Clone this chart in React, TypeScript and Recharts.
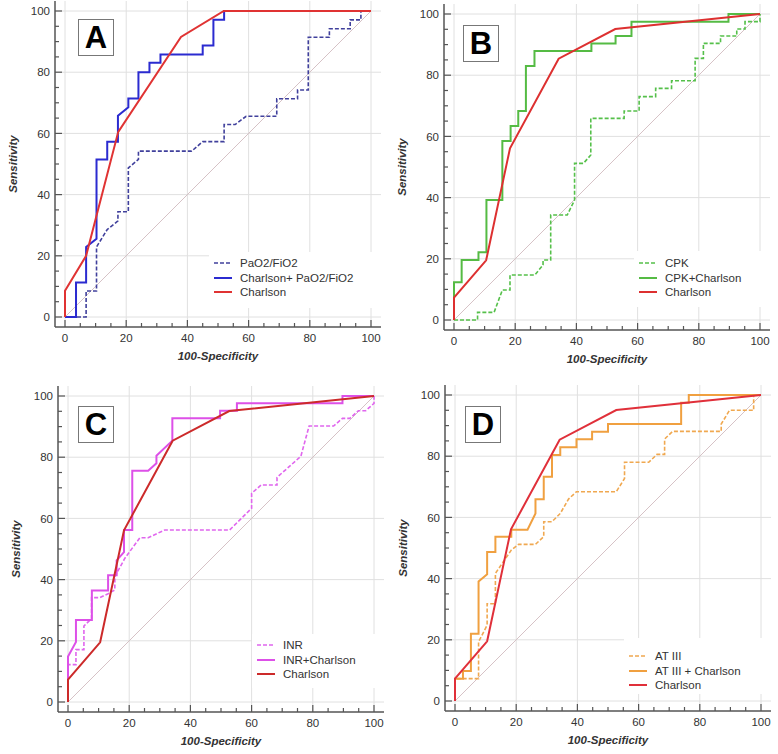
import React from 'react';
import { LineChart, Line, XAxis, YAxis, CartesianGrid, Legend } from 'recharts';

const FONT = '"Liberation Sans", Arial, Helvetica, sans-serif';

// ---------- tick values ----------
const MAJOR_TICKS = [0, 20, 40, 60, 80, 100];
const ALL_TICKS = [0, 5, 10, 15, 20, 25, 30, 35, 40, 45, 50, 55, 60, 65, 70, 75, 80, 85, 90, 95, 100];
const DIAGONAL = [[0, 0], [100, 100]];

// ---------- Panel A ----------
const A_PAO = [[0,0],[6.9,0],[6.9,8.5],[10.3,8.5],[10.3,22.9],[13.8,28.6],[17.3,31.4],[17.3,34.4],[20.7,34.4],[20.7,48.7],[24,51.5],[24,54.2],[41.4,54.2],[45,57.3],[52,57.3],[52,62.9],[55.6,62.9],[59.2,65.6],[69.2,65.6],[69.2,71.3],[76,71.3],[76,74.2],[79.5,74.2],[79.5,91.4],[86.4,91.4],[86.4,94.2],[93.2,94.2],[93.2,97.1],[96.7,97.1],[96.7,100],[100,100]];
const A_COMBO = [[0,0],[3.6,0],[3.6,11.3],[6.9,11.3],[6.9,22.9],[10.3,25.6],[10.3,51.5],[13.8,51.5],[13.8,57.3],[17.3,57.3],[17.3,65.8],[20.7,68.5],[20.7,71.4],[24,71.4],[24,80],[27.6,80],[27.6,83.1],[31.2,83.1],[31.2,85.8],[45,85.8],[45,88.7],[48.5,88.7],[48.5,97.1],[52,97.1],[52,100],[100,100]];
const A_CHARLSON = [[0,0],[0,8.6],[6.9,20],[17.4,60.5],[37.9,91.5],[51.9,100],[100,100]];

// ---------- Charlson (B, C, D) ----------
const CHARLSON = [[0,0],[0,7.3],[10.5,19.5],[18.3,56.1],[34.2,85.4],[52.7,95.1],[100,100]];

// ---------- Panel B ----------
const B_CPK = [[0,0],[7.7,0],[7.7,2.5],[13.1,2.5],[15.8,9.8],[18.3,9.8],[18.3,14.7],[26.4,14.7],[29.1,18],[29.1,19.6],[31.6,19.6],[31.6,34.3],[37,34.3],[39.4,39.2],[39.4,51.2],[42.3,51.2],[44.7,53.9],[44.7,65.9],[55.6,65.9],[55.6,68.3],[60.5,68.3],[60.5,73],[65.9,73],[65.9,75.7],[71.1,75.7],[71.1,78.2],[78.8,78.2],[78.8,85.5],[81.5,85.5],[81.5,90.4],[87.1,90.4],[87.1,92.8],[92.4,92.8],[92.4,95.1],[95.1,95.1],[95.1,97.5],[100,97.5],[100,100]];
const B_COMBO = [[0,0],[0,12.3],[2.5,12.3],[2.5,19.6],[8,19.6],[8,22.1],[10.6,22.1],[10.6,39.2],[15.8,39.2],[15.8,58.5],[18.5,58.5],[18.5,63.4],[21,63.4],[21,68.3],[23.5,68.3],[23.5,83],[26.3,83],[26.3,87.9],[44.9,87.9],[44.9,90.4],[52.8,90.4],[52.8,92.8],[58,92.8],[58,97.5],[89.7,97.5],[89.7,100],[100,100]];

// ---------- Panel C ----------
const C_INR = [[0,0],[0,12.2],[2.6,12.2],[2.6,17.1],[5.2,17.1],[5.2,24.8],[7.7,27.3],[7.7,34.1],[10.4,34.1],[13.1,35.4],[15.3,36.6],[15.3,41],[18.6,47],[23.5,53.7],[26.2,53.7],[31.6,56.2],[52.8,56.2],[60,63.3],[60,68.2],[63.1,70.9],[68.3,70.9],[68.3,73.4],[76.1,80.3],[78.8,90.2],[86.8,90.2],[89.7,92.7],[92.1,92.7],[94.9,95.2],[97.3,95.2],[100,97.6],[100,100]];
const C_COMBO = [[0,0],[0,14.9],[2.6,19.6],[2.6,26.8],[7.8,26.8],[7.8,36.4],[13.1,36.4],[13.1,41.4],[15.9,41.4],[15.9,46.3],[18.3,49],[18.3,56.2],[21,56.2],[21,75.6],[26.2,75.6],[28.9,78],[28.9,80.5],[34.1,85.4],[34.1,92.7],[49.7,92.7],[49.7,95.2],[55.2,95.2],[55.2,97.6],[89.7,97.6],[89.7,100],[100,100]];

// ---------- Panel D ----------
const D_AT3 = [[0,0],[0,7.3],[7.7,7.3],[7.7,19.3],[10.5,24.8],[10.5,31.8],[13.2,31.8],[13.2,41.7],[18.4,49.3],[20.8,51.2],[26.3,51.2],[29,53.7],[29,58.6],[31.7,58.6],[34.4,61.3],[37.1,66],[39.7,68.4],[52.7,68.4],[55.4,72.7],[55.4,78],[63.3,78],[66,80.6],[68.5,80.6],[68.5,85.6],[71.1,88.1],[87,88.1],[87,90.5],[89.7,95],[97.6,95],[97.6,100],[100,100]];
const D_COMBO = [[0,0],[0,7.3],[2.6,7.3],[2.6,9.8],[5.2,9.8],[5.2,22],[7.7,22],[7.7,39.1],[10.5,41.4],[10.5,48.7],[13.2,48.7],[13.2,53.7],[18.4,53.7],[18.4,56],[23.7,56],[26.3,61.3],[26.3,65.9],[29,65.9],[29,73.3],[31.7,73.3],[31.7,80.4],[34.4,80.4],[34.4,82.9],[39.7,82.9],[39.7,85.5],[44.8,85.5],[44.8,88],[50,88],[50,90.5],[73.9,90.5],[73.9,97.5],[76.4,97.5],[76.4,100],[100,100]];

// ---------- names ----------
const A_NAMES = ['PaO2/FiO2', 'Charlson+ PaO2/FiO2', 'Charlson'];
const B_NAMES = ['CPK', 'CPK+Charlson', 'Charlson'];
const C_NAMES = ['INR', 'INR+Charlson', 'Charlson'];
const D_NAMES = ['AT III', 'AT III + Charlson', 'Charlson'];

const toRows = (pts: number[][]) => pts.map(([x, y]) => ({ x, y }));

type Series = { id: string; name: string; points: number[][]; color: string; dashed: boolean };
type PanelCfg = {
  letter: string;
  left: number;
  top: number;
  letterBox: { left: number; top: number };
  legendBox: { left: number; top: number; width: number; height: number; rowStart: number };
  series: Series[];
};

const PANELS: PanelCfg[] = [
  {
    letter: 'A', left: 0, top: 0,
    letterBox: { left: 78, top: 19 },
    legendBox: { left: 209, top: 252, width: 176, height: 56, rowStart: 11 },
    series: [
      { id: 'a1', name: A_NAMES[0], points: A_PAO, color: '#40409c', dashed: true },
      { id: 'a2', name: A_NAMES[1], points: A_COMBO, color: '#2b2bd0', dashed: false },
      { id: 'a3', name: A_NAMES[2], points: A_CHARLSON, color: '#e03333', dashed: false },
    ],
  },
  {
    letter: 'B', left: 389, top: 3,
    letterBox: { left: 463, top: 25 },
    legendBox: { left: 245, top: 248, width: 140, height: 56, rowStart: 12 },
    series: [
      { id: 'b1', name: B_NAMES[0], points: B_CPK, color: '#55c04a', dashed: true },
      { id: 'b2', name: B_NAMES[1], points: B_COMBO, color: '#55bb44', dashed: false },
      { id: 'b3', name: B_NAMES[2], points: CHARLSON, color: '#dd3030', dashed: false },
    ],
  },
  {
    letter: 'C', left: 3, top: 385,
    letterBox: { left: 78, top: 406 },
    legendBox: { left: 249, top: 249, width: 136, height: 54, rowStart: 11 },
    series: [
      { id: 'c1', name: C_NAMES[0], points: C_INR, color: '#e066ee', dashed: true },
      { id: 'c2', name: C_NAMES[1], points: C_COMBO, color: '#dd50e8', dashed: false },
      { id: 'c3', name: C_NAMES[2], points: CHARLSON, color: '#cc2a2a', dashed: false },
    ],
  },
  {
    letter: 'D', left: 390, top: 384,
    letterBox: { left: 465, top: 406 },
    legendBox: { left: 234, top: 254, width: 150, height: 56, rowStart: 18 },
    series: [
      { id: 'd1', name: D_NAMES[0], points: D_AT3, color: '#f0a850', dashed: true },
      { id: 'd2', name: D_NAMES[1], points: D_COMBO, color: '#f0a040', dashed: false },
      { id: 'd3', name: D_NAMES[2], points: CHARLSON, color: '#e0303a', dashed: false },
    ],
  },
];

const TM_X = 7;
const TM_Y = 5;
const AXIS_COLOR = '#555';
const TEXT_COLOR = '#333';
const FS = 11.5;

function XTick(props: any) {
  const { x, y, payload } = props;
  const v = payload.value;
  const major = v % 20 === 0;
  const ay = y - TM_X;
  return (
    <g>
      <line x1={x} x2={x} y1={ay} y2={ay - (major ? 7 : 4)} stroke={AXIS_COLOR} strokeWidth={1.2} />
      {major ? (
        <text x={x} y={y} dy="0.71em" textAnchor="middle" fontSize={FS} fill={TEXT_COLOR} fontFamily={FONT}>
          {v}
        </text>
      ) : null}
    </g>
  );
}

function YTick(props: any) {
  const { x, y, payload } = props;
  const v = payload.value;
  const major = v % 20 === 0;
  const ax = x + TM_Y;
  return (
    <g>
      <line x1={ax} x2={ax + (major ? 7 : 4)} y1={y} y2={y} stroke={AXIS_COLOR} strokeWidth={1.2} />
      {major ? (
        <text x={x} y={y} dy="0.36em" textAnchor="end" fontSize={FS} fill={TEXT_COLOR} fontFamily={FONT}>
          {v}
        </text>
      ) : null}
    </g>
  );
}

function LegendBox({ cfg }: { cfg: PanelCfg }) {
  const lb = cfg.legendBox;
  return (
    <div style={{ position: 'relative', width: lb.width, height: lb.height, background: '#fff' }}>
      {cfg.series.map((s, i) => {
        const cy = lb.rowStart + i * 14.5;
        return (
          <div key={s.id} style={{ position: 'absolute', left: 0, top: cy - 8, height: 16, width: lb.width }}>
            <svg width={24} height={16} style={{ position: 'absolute', left: 0, top: 0 }}>
              <line x1={5} x2={23} y1={8} y2={8} stroke={s.color} strokeWidth={s.dashed ? 1.6 : 2}
                strokeDasharray={s.dashed ? '4 2' : undefined} />
            </svg>
            <span style={{ position: 'absolute', left: 31, top: 1, fontFamily: FONT, fontSize: FS, color: TEXT_COLOR,
              lineHeight: '14px', whiteSpace: 'nowrap' }}>{s.name}</span>
          </div>
        );
      })}
    </div>
  );
}

function Panel({ cfg }: { cfg: PanelCfg }) {
  const lb = cfg.legendBox;
  return (
    <div style={{ position: 'absolute', left: cfg.left, top: cfg.top, width: 389, height: 377 }}>
      <LineChart width={389} height={377} margin={{ top: 1, right: 8, bottom: 10, left: 0 }}>
        <CartesianGrid stroke="#e0e0e0" strokeWidth={1} horizontalValues={MAJOR_TICKS} verticalValues={MAJOR_TICKS} />
        <XAxis
          dataKey="x" type="number" domain={[0, 100]} ticks={ALL_TICKS} interval={0}
          padding={{ left: 10, right: 10 }} height={40}
          tickSize={0} tickMargin={TM_X} tickLine={false} tick={<XTick />}
          axisLine={{ stroke: AXIS_COLOR, strokeWidth: 1.5 }}
          label={{ value: '100-Specificity', position: 'insideBottom', offset: 7,
            style: { fontFamily: FONT, fontSize: FS, fontWeight: 'bold', fontStyle: 'italic', fill: TEXT_COLOR } }}
        />
        <YAxis
          dataKey="y" type="number" domain={[0, 100]} ticks={ALL_TICKS} interval={0}
          padding={{ top: 10, bottom: 10 }} width={55}
          tickSize={0} tickMargin={TM_Y} tickLine={false} tick={<YTick />}
          axisLine={{ stroke: AXIS_COLOR, strokeWidth: 1.5 }}
          label={{ value: 'Sensitivity', angle: -90, position: 'insideLeft', offset: 13,
            style: { textAnchor: 'middle', fontFamily: FONT, fontSize: FS, fontWeight: 'bold', fontStyle: 'italic', fill: TEXT_COLOR } }}
        />
        <Line id={cfg.letter + '-diag'} data={toRows(DIAGONAL)} dataKey="y" type="linear" stroke="#d6c2c6" strokeWidth={1}
          dot={false} activeDot={false} isAnimationActive={false} legendType="none" />
        {cfg.series.map((s) => (
          <Line key={s.id} id={s.id} data={toRows(s.points)} dataKey="y" name={s.name} type="linear"
            stroke={s.color} strokeWidth={s.dashed ? 1.6 : 2} strokeDasharray={s.dashed ? '4 2' : undefined}
            dot={false} activeDot={false} isAnimationActive={false} />
        ))}
        <Legend
          layout="vertical" align="center" verticalAlign="middle"
          wrapperStyle={{ left: lb.left, top: lb.top, width: lb.width, height: lb.height, margin: 0, padding: 0 }}
          content={() => <LegendBox cfg={cfg} />}
        />
      </LineChart>
    </div>
  );
}

function LetterBox({ cfg }: { cfg: PanelCfg }) {
  return (
    <div style={{
      position: 'absolute', left: cfg.letterBox.left, top: cfg.letterBox.top, width: 36, height: 37,
      boxSizing: 'border-box', border: '1.5px solid #777', background: '#fff',
      display: 'flex', alignItems: 'center', justifyContent: 'center',
      fontFamily: FONT, fontWeight: 'bold', fontSize: 31, color: '#000', lineHeight: 1,
    }}>
      {cfg.letter}
    </div>
  );
}

export default function App() {
  return (
    <div style={{ position: 'absolute', left: 0, top: 0, width: 778, height: 754, background: '#fff', overflow: 'hidden' }}>
      {PANELS.map((p) => <Panel key={p.letter} cfg={p} />)}
      {PANELS.map((p) => <LetterBox key={'L' + p.letter} cfg={p} />)}
    </div>
  );
}
